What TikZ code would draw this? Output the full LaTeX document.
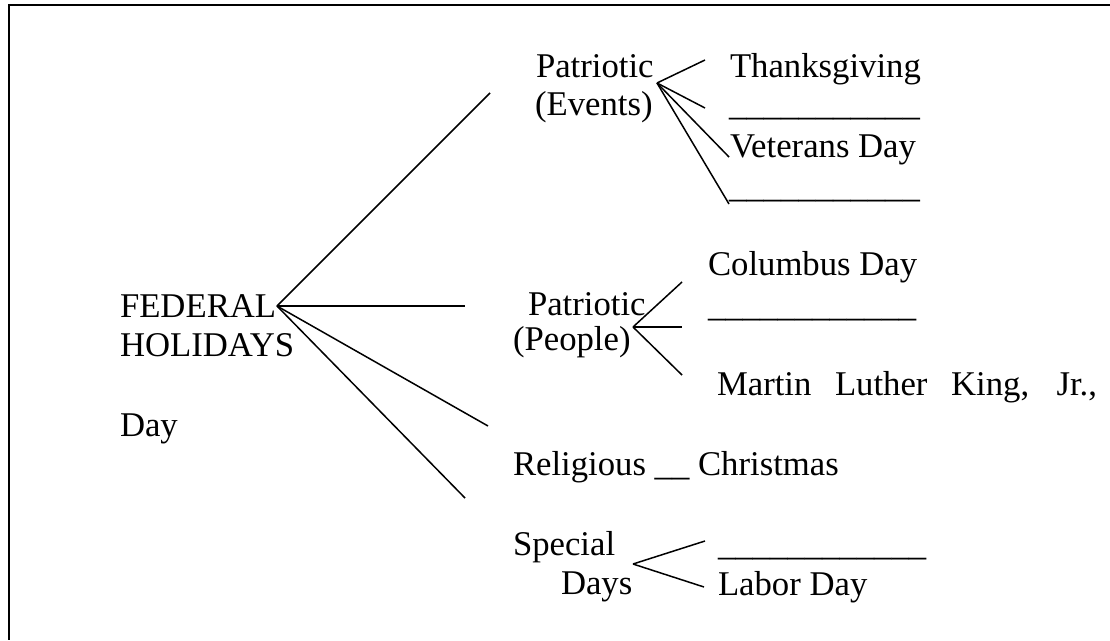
\documentclass[tikz,border=0pt]{standalone}
\usepackage{fontspec}
\setmainfont{Liberation Serif}
\begin{document}
\begin{tikzpicture}[x=1pt,y=-1pt,
  lbl/.style={anchor=base west,inner sep=0pt,outer sep=0pt,font=\fontsize{34.7}{40}\selectfont},
  conn/.style={line width=1.5pt},
  frame/.style={line width=2.6pt}]
\useasboundingbox (0,0) rectangle (1110,640);
\draw[frame] (1110,5) -- (9,5) -- (9,640);
% texts
\node[lbl] (fed1) at (120,317) {FEDERAL};
\node[lbl] (fed2) at (120,356) {HOLIDAYS};
\node[lbl] (fed3) at (120,436) {Day};
\node[lbl] (pe1) at (536,77) {Patriotic};
\node[lbl] (pe2) at (535,115) {(Events)};
\node[lbl] (thx) at (730,77) {Thanksgiving};
\node[lbl] (bl1) at (729,115) {\_\_\_\_\_\_\_\_\_\_\_};
\node[lbl] (vet) at (730,157) {Veterans Day};
\node[lbl] (bl2) at (729,197) {\_\_\_\_\_\_\_\_\_\_\_};
\node[lbl] (pp1) at (528,315) {Patriotic};
\node[lbl] (pp2) at (513,350) {(People)};
\node[lbl] (col) at (708,275) {Columbus Day};
\node[lbl] (bl3) at (708,316) {\_\_\_\_\_\_\_\_\_\_\_\_};
\node[lbl] (mlk) at (717,395) {\makebox[380pt][s]{Martin Luther King, Jr.,}};
\node[lbl] (rel) at (513,475) {Religious \_\_ Christmas};
\node[lbl] (sp1) at (513,555) {Special};
\node[lbl] (sp2) at (561,594) {Days};
\node[lbl] (bl4) at (718,555) {\_\_\_\_\_\_\_\_\_\_\_\_};
\node[lbl] (lab) at (718,595) {Labor Day};
% hubs and ends
\coordinate (fh) at (277,306);
\coordinate (f1) at (490,93);
\coordinate (f2) at (465,306);
\coordinate (f3) at (488,426);
\coordinate (f4) at (465,498);
\coordinate (eh) at (657,83);
\coordinate (e1) at (705,60);
\coordinate (e2) at (705,108);
\coordinate (e3) at (729,157);
\coordinate (e4) at (729,204);
\coordinate (ph) at (633,327);
\coordinate (p1) at (682,282);
\coordinate (p2) at (682,327);
\coordinate (p3) at (682,375);
\coordinate (sh) at (633,564);
\coordinate (s1) at (705,541);
\coordinate (s2) at (704,587);
\foreach \e in {f1,f2,f3,f4} \draw[conn] (fh) -- (\e);
\foreach \e in {e1,e2,e3,e4} \draw[conn] (eh) -- (\e);
\foreach \e in {p1,p2,p3} \draw[conn] (ph) -- (\e);
\foreach \e in {s1,s2} \draw[conn] (sh) -- (\e);
\end{tikzpicture}
\end{document}
